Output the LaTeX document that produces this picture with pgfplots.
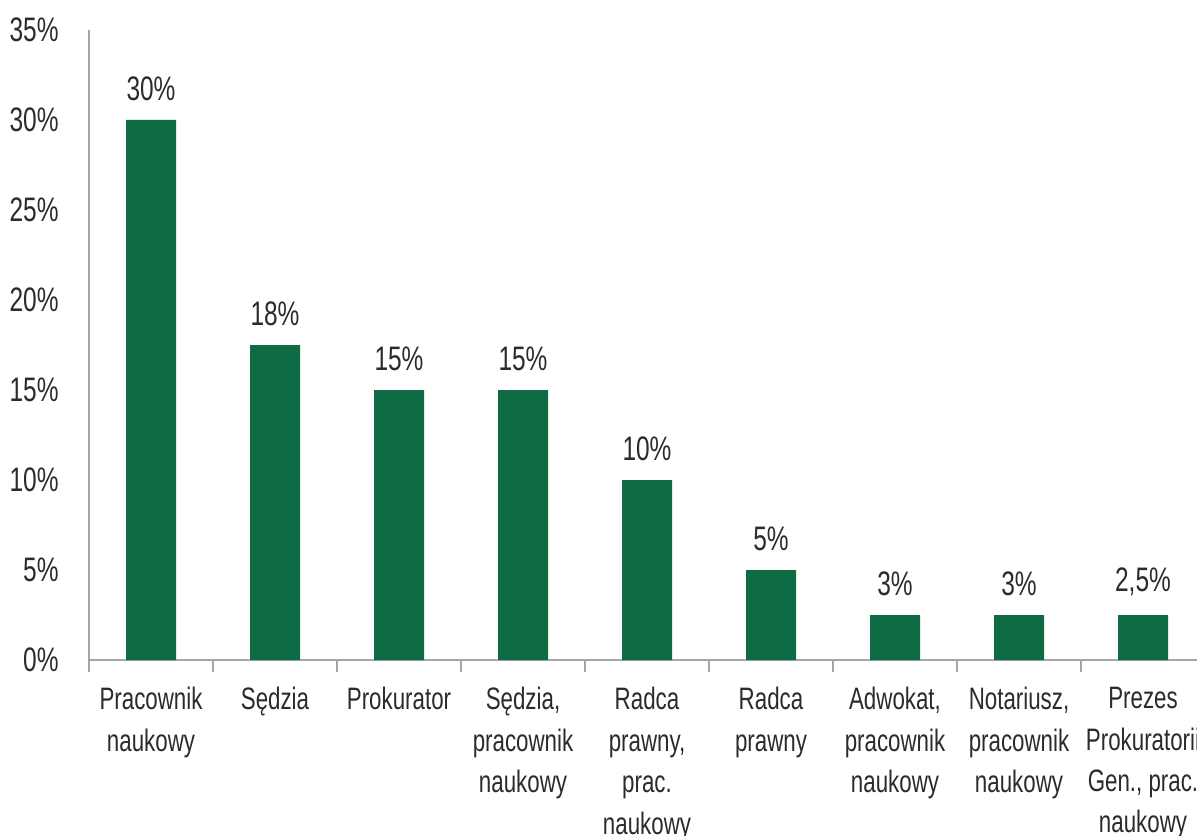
\documentclass[border=0pt]{standalone}
\usepackage{fontspec}
\setmainfont{Liberation Sans}[FakeStretch=0.72]
\usepackage{pgfplots}
\pgfplotsset{compat=1.18}
\definecolor{bargreen}{HTML}{0E6B43}
\definecolor{txt}{HTML}{2B2B2B}
\definecolor{axgray}{HTML}{A6A6A6}

\begin{document}
\begin{tikzpicture}
\useasboundingbox (0,0) rectangle (598.5pt,417.5pt);
\begin{axis}[
    at={(44.5pt,87.5pt)}, anchor=south west,
    scale only axis,
    width=558pt, height=315pt,
    xmin=-0.5, xmax=8.5,
    ymin=0, ymax=35,
    axis lines=left,
    axis line style={-, axgray, line width=0.8pt},
    font=\fontsize{15.5}{20.7}\selectfont,
    ytick={0,5,...,35},
    yticklabel={\pgfmathparse{int(\tick)}\pgfmathresult\%},
    yticklabel style={anchor=east, inner sep=0pt, xshift=-15pt, text=txt, font=\fontsize{17}{20}\selectfont},
    ytick style={draw=none},
    xtick={0,...,8},
    xticklabels={Pracownik\\naukowy, Sędzia, Prokurator, {Sędzia,\\pracownik\\naukowy}, {Radca\\prawny,\\prac.\\naukowy}, Radca\\prawny, {Adwokat,\\pracownik\\naukowy}, {Notariusz,\\pracownik\\naukowy}, {Prezes\\Prokuratorii\\Gen., prac.\\naukowy}},
    xticklabel style={anchor=north, inner sep=0pt, align=center, text=txt, yshift=-13.5pt},
    minor xtick={-0.5,0.5,...,8.5},
    major tick length=0pt,
    minor tick length=6pt,
    tick align=outside,
    minor tick style={axgray, line width=0.8pt},
    ybar, bar width=25pt,
    nodes near coords,
    point meta=explicit symbolic,
    every node near coord/.append style={anchor=south, inner sep=0pt, yshift=9.5pt, text=txt, font=\fontsize{17}{20}\selectfont},
    clip=false,
]
\addplot[fill=bargreen, draw=none] coordinates {
    (0,30) [30\%]
    (1,17.5) [18\%]
    (2,15) [15\%]
    (3,15) [15\%]
    (4,10) [10\%]
    (5,5) [5\%]
    (6,2.5) [3\%]
    (7,2.5) [3\%]
    (8,2.5) [2,5\%]
};
\end{axis}
\end{tikzpicture}
\end{document}
